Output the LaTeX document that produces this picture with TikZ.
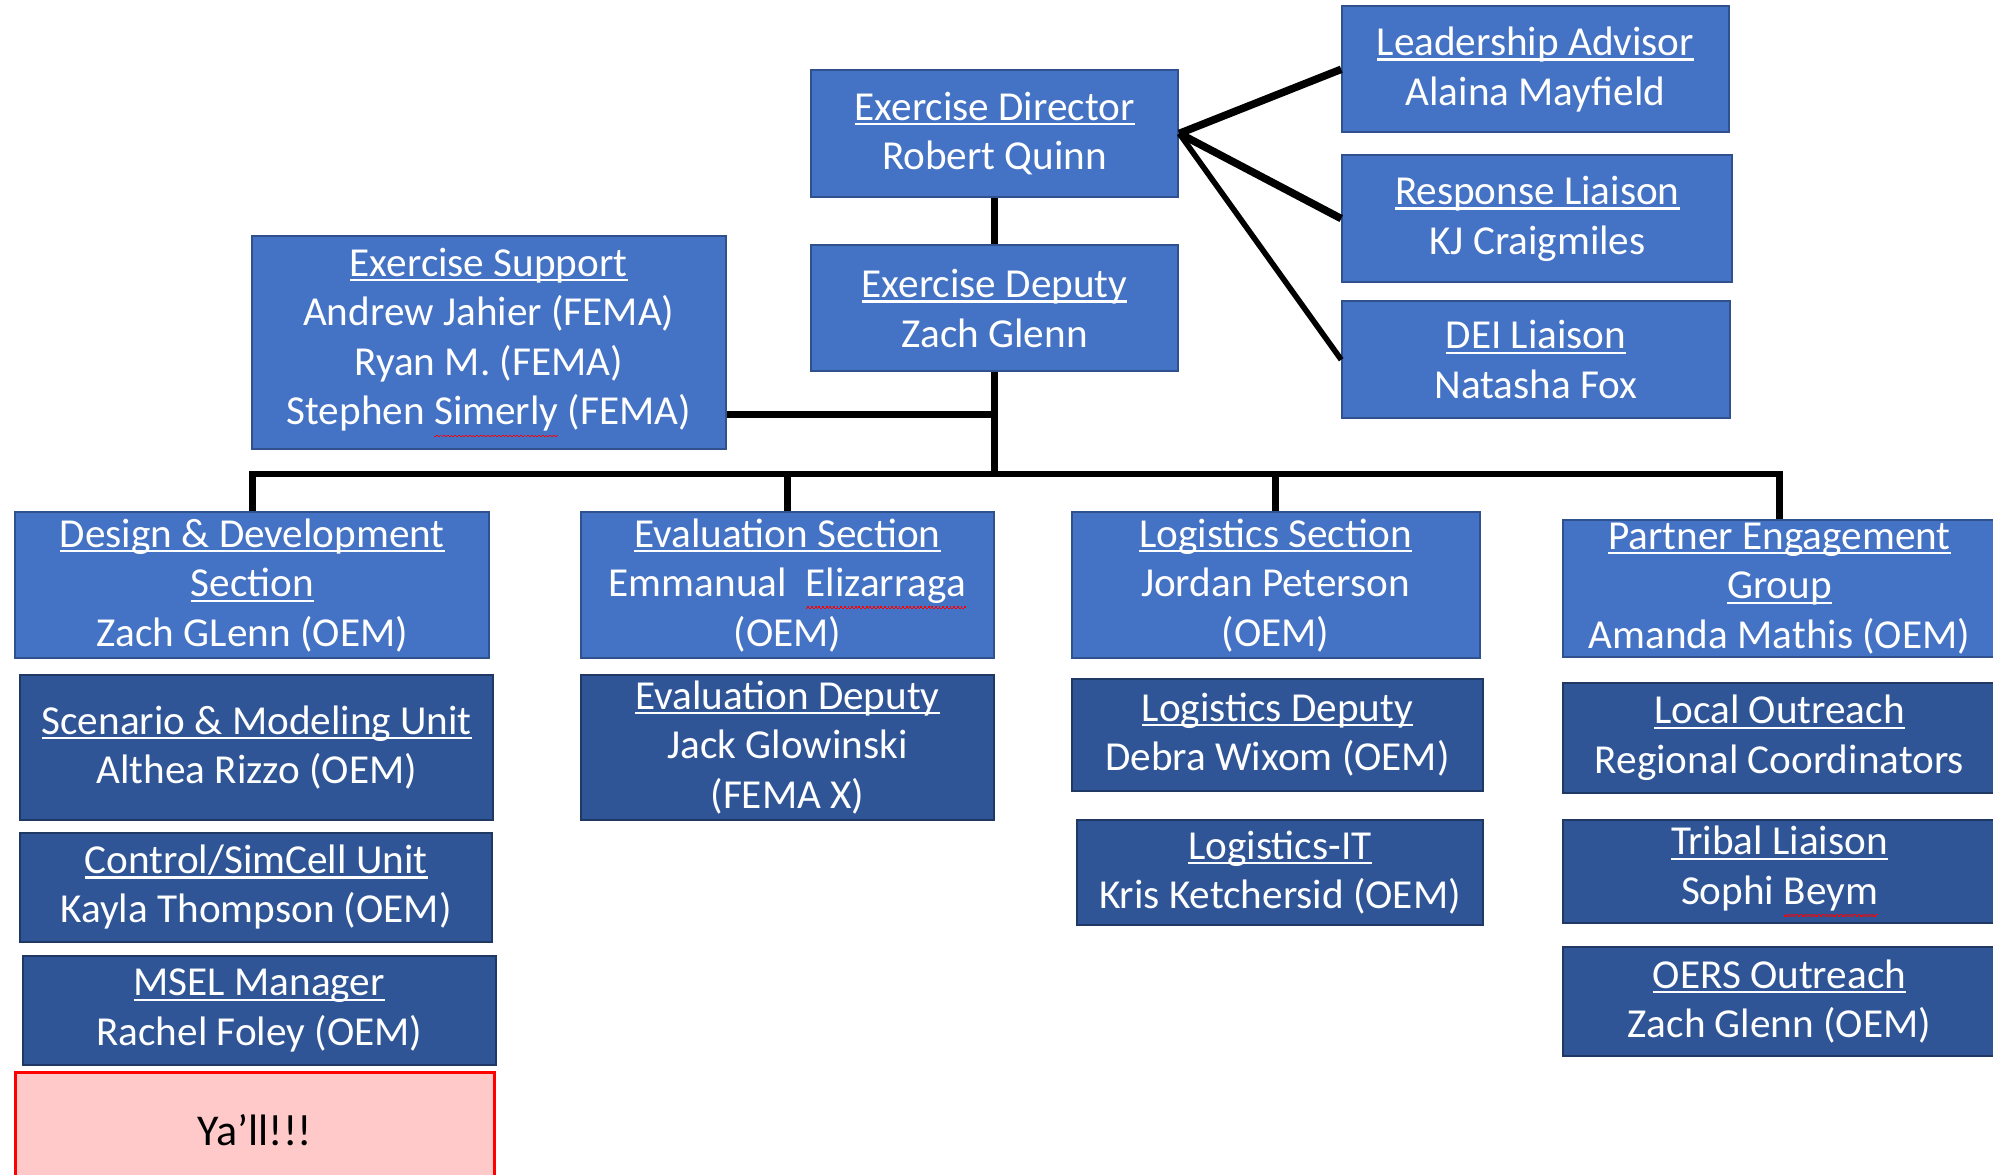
\documentclass[tikz,border=0pt]{standalone}
\usepackage{fontspec}
\setmainfont{Carlito}
\definecolor{lb}{HTML}{4472C4}
\definecolor{lbd}{HTML}{2F528F}
\definecolor{db}{HTML}{2F5597}
\definecolor{dbd}{HTML}{203864}
\definecolor{pinkfill}{HTML}{FFC9C9}
\newsavebox\ulbox
\newcommand\ul[1]{\sbox\ulbox{#1}\rlap{\rule[-2.6pt]{\wd\ulbox}{1.1pt}}\usebox\ulbox}
\newcommand\redwave[1]{\sbox\ulbox{#1}\rlap{\color{red}\hbox to \wd\ulbox{\xleaders\hbox{\rule[-6.2pt]{0.9pt}{0.6pt}\rule[-5.4pt]{0.9pt}{0.6pt}}\hfil}}\usebox\ulbox}
\tikzset{
  base/.style 2 args={rectangle, inner sep=0pt, align=center, text=white,
    font=\fontsize{20.6}{24.8}\selectfont,
    minimum width={#1*0.6355pt}, minimum height={#2*0.6355pt}},
  lbox/.style 2 args={base={#1}{#2}, fill=lb, draw=lbd, line width=1pt},
  dbox/.style 2 args={base={#1}{#2}, fill=db, draw=dbd, line width=1pt},
  conn/.style={line width=3.2pt, black, line join=miter},
}
\begin{document}
\begin{tikzpicture}[x=0.6355pt, y=-0.6355pt]
\useasboundingbox (0,0) rectangle (1568,924);
\clip (0,0) rectangle (1568,924);
\fill[white] (0,0) rectangle (1568,924);

% top
\node[lbox={289}{100}] (dir) at (782.5,105) {\ul{Exercise Director}\\Robert Quinn};
\node[lbox={289}{99}] (dep) at (782.5,242.5) {\ul{Exercise Deputy}\\Zach Glenn};
\node[lbox={373}{167}] (sup) at (384.5,269.5) {\ul{Exercise Support}\\Andrew Jahier (FEMA)\\Ryan M. (FEMA)\\Stephen \redwave{Simerly} (FEMA)};
\node[lbox={304}{99}] (lead) at (1208,54.5) {\ul{Leadership Advisor}\\Alaina Mayfield};
\node[lbox={307}{100}] (resp) at (1209.5,172) {\ul{Response Liaison}\\KJ Craigmiles};
\node[lbox={305}{92}] (dei) at (1208.5,283) {\ul{DEI Liaison}\\Natasha Fox};

% column 1
\node[lbox={373}{115}] (dd) at (198.5,460.5) {\ul{Design \& Development}\\\ul{Section}\\Zach GLenn (OEM)};
\node[dbox={372}{114}] (scen) at (202,588) {\ul{Scenario \& Modeling Unit}\\Althea Rizzo (OEM)};
\node[dbox={371}{86}] (ctrl) at (201.5,698) {\ul{Control/SimCell Unit}\\Kayla Thompson (OEM)};
\node[dbox={372}{86}] (msel) at (204,795) {\ul{MSEL Manager}\\Rachel Foley (OEM)};
\node[base={377}{90}, fill=pinkfill, draw=red, line width=1.6pt, text=black,
      font=\fontsize{22}{26}\selectfont] (yall) at (200.5,889) {Ya’ll!!!};

% column 2
\node[lbox={325}{115}] (evs) at (619.5,460.5) {\ul{Evaluation Section}\\Emmanual\ \ \redwave{Elizarraga}\\(OEM)};
\node[dbox={325}{114}] (evd) at (619.5,588) {\ul{Evaluation Deputy}\\Jack Glowinski\\(FEMA X)};

% column 3
\node[lbox={321}{115}] (ls) at (1003.5,460.5) {\ul{Logistics Section}\\Jordan Peterson\\(OEM)};
\node[dbox={324}{88}] (ld) at (1005,578) {\ul{Logistics Deputy}\\Debra Wixom (OEM)};
\node[dbox={320}{83}] (lit) at (1007,686.5) {\ul{Logistics-IT}\\Kris Ketchersid (OEM)};

% column 4
\node[lbox={340}{108}] (peg) at (1400,463) {\ul{Partner Engagement}\\\ul{Group}\\Amanda Mathis (OEM)};
\node[dbox={340}{87}] (lo) at (1400,580.5) {\ul{Local Outreach}\\Regional Coordinators};
\node[dbox={340}{81}] (tl) at (1400,685.5) {\ul{Tribal Liaison}\\Sophi \redwave{Beym}};
\node[dbox={340}{86}] (oers) at (1400,788) {\ul{OERS Outreach}\\Zach Glenn (OEM)};

% connectors
\coordinate (bus) at (782.5,373);
\coordinate (sj) at (782.5,326);
\draw[conn] (dir.south) -- (dep.north);
\draw[conn] (dep.south) -- (bus);
\draw[conn] (sj -| sup.east) -- (sj);
\draw[conn] (dd.north) |- (bus) -| (peg.north);
\draw[conn] (evs.north) -- (evs.north |- bus);
\draw[conn] (ls.north) -- (ls.north |- bus);
\draw[line width=3.8pt] (dir.east) -- (lead.west);
\draw[line width=3.8pt] (dir.east) -- (resp.west);
\draw[line width=2.8pt] (dir.east) -- (dei.west);
\end{tikzpicture}
\end{document}
